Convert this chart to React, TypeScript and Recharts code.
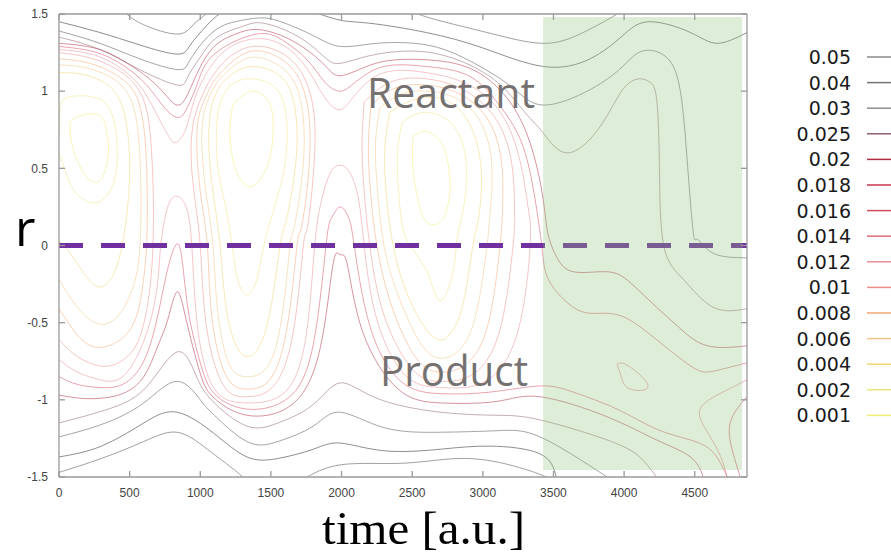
import React from 'react';
import { LineChart, Line, XAxis, YAxis, ReferenceLine, ReferenceArea, Legend } from 'recharts';

const W = 891;
const H = 554;

// axis ticks
const TIME_TICKS = [0, 500, 1000, 1500, 2000, 2500, 3000, 3500, 4000, 4500];
const R_TICKS = [-1.5, -1, -0.5, 0, 0.5, 1, 1.5];

// contour levels (legend order) and their colours
const LEVELS = ['0.05', '0.04', '0.03', '0.025', '0.02', '0.018', '0.016', '0.014', '0.012', '0.01', '0.008', '0.006', '0.004', '0.002', '0.001'];
const LEVEL_COLORS = ['#8a8a8a', '#727272', '#8e8e8e', '#8c5d6a', '#ad2a40', '#c7374d', '#d44a5e', '#df6b79', '#e78d95', '#ee8e8a', '#f3a676', '#f2c486', '#f1d36f', '#efe47f', '#f1ee72'];

// ---- contour traces, [time, r] ----
// lobe around t ~ 300
const lobe1_001 = [[78, 0.8], [150, 0.84], [290, 0.84], [340, 0.72], [350, 0.6], [320, 0.47], [270, 0.41], [200, 0.44], [140, 0.53], [90, 0.66], [78, 0.8]];
const lobe1_002 = [[0, 0.7], [10, 0.9], [60, 0.96], [170, 0.97], [320, 0.93], [395, 0.78], [412, 0.59], [388, 0.41], [300, 0.29], [190, 0.29], [90, 0.38], [30, 0.52], [0, 0.6]];
const lobe1_004 = [[0, 1.12], [160, 1.11], [330, 1.05], [440, 0.92], [490, 0.7], [500, 0.45], [478, 0.18], [446, 0], [395, -0.17], [290, -0.27], [175, -0.18], [80, -0.05], [0, 0.03]];
const lobe1_006 = [[0, 1.17], [200, 1.15], [400, 1.07], [520, 0.92], [568, 0.65], [580, 0.3], [573, 0], [540, -0.22], [440, -0.43], [290, -0.51], [130, -0.4], [0, -0.22]];
const lobe1_008 = [[0, 1.21], [220, 1.18], [430, 1.09], [560, 0.94], [612, 0.65], [625, 0.3], [620, 0], [590, -0.28], [500, -0.55], [290, -0.66], [130, -0.58], [0, -0.41]];
const lobe1_010 = [[0, 1.25], [240, 1.21], [460, 1.11], [600, 0.94], [652, 0.65], [668, 0.3], [665, 0], [640, -0.3], [560, -0.62], [420, -0.76], [290, -0.78], [130, -0.72], [0, -0.61]];

// lobe around t ~ 1350
const lobe2_001 = [[1270, 0.95], [1374, 1.0], [1470, 0.95], [1515, 0.82], [1500, 0.6], [1440, 0.45], [1352, 0.38], [1270, 0.45], [1225, 0.58], [1211, 0.75], [1230, 0.9], [1270, 0.95]];
const lobe2_002 = [[1200, 1.03], [1280, 1.07], [1370, 1.08], [1490, 1.05], [1580, 0.95], [1615, 0.75], [1595, 0.5], [1525, 0.25], [1450, 0], [1400, -0.22], [1330, -0.32], [1265, -0.22], [1225, 0], [1180, 0.25], [1125, 0.5], [1115, 0.75], [1140, 0.92], [1200, 1.03]];
const lobe2_004 = [[1150, 1.05], [1240, 1.12], [1370, 1.16], [1530, 1.12], [1640, 1.0], [1685, 0.75], [1665, 0.45], [1605, 0.15], [1565, 0], [1500, -0.4], [1420, -0.65], [1330, -0.72], [1240, -0.62], [1175, -0.35], [1140, 0], [1090, 0.35], [1060, 0.65], [1080, 0.9], [1150, 1.05]];
const lobe2_006 = [[1120, 1.06], [1220, 1.15], [1370, 1.22], [1550, 1.17], [1680, 1.03], [1735, 0.75], [1715, 0.4], [1660, 0.1], [1635, 0], [1580, -0.45], [1480, -0.78], [1330, -0.85], [1200, -0.76], [1120, -0.4], [1090, 0], [1040, 0.35], [1010, 0.7], [1045, 0.92], [1120, 1.06]];
const lobe2_008 = [[1090, 1.06], [1200, 1.17], [1370, 1.26], [1570, 1.21], [1710, 1.06], [1775, 0.78], [1760, 0.4], [1712, 0.1], [1685, 0], [1620, -0.5], [1500, -0.86], [1330, -0.93], [1180, -0.84], [1080, -0.45], [1050, 0], [1000, 0.35], [975, 0.7], [1010, 0.9], [1090, 1.06]];
const lobe2_010 = [[1060, 1.06], [1180, 1.2], [1370, 1.29], [1590, 1.24], [1740, 1.08], [1810, 0.8], [1795, 0.4], [1755, 0.1], [1730, 0], [1660, -0.55], [1520, -0.91], [1330, -0.98], [1160, -0.9], [1040, -0.5], [1000, 0], [955, 0.35], [935, 0.65], [975, 0.88], [1060, 1.06]];

// lobe around t ~ 2700
const lobe3_001 = [[2506, 0.71], [2580, 0.74], [2648, 0.72], [2730, 0.62], [2768, 0.4], [2750, 0.25], [2697, 0.15], [2605, 0.15], [2545, 0.28], [2505, 0.5], [2506, 0.71]];
const lobe3_002 = [[2430, 0.8], [2560, 0.86], [2700, 0.84], [2820, 0.74], [2880, 0.55], [2870, 0.28], [2818, 0.04], [2790, -0.17], [2697, -0.36], [2605, -0.17], [2470, 0.02], [2415, 0.23], [2395, 0.56], [2430, 0.8]];
const lobe3_004 = [[2340, 0.86], [2470, 0.93], [2640, 0.96], [2800, 0.91], [2930, 0.74], [2990, 0.46], [2970, 0.18], [2930, 0], [2860, -0.38], [2770, -0.57], [2690, -0.61], [2580, -0.52], [2450, -0.28], [2365, 0], [2320, 0.3], [2305, 0.6], [2340, 0.86]];
const lobe3_006 = [[2270, 0.89], [2420, 0.98], [2620, 1.0], [2820, 0.95], [2990, 0.79], [3065, 0.5], [3050, 0.2], [3030, 0], [2950, -0.45], [2830, -0.68], [2690, -0.73], [2550, -0.62], [2400, -0.32], [2300, 0], [2255, 0.35], [2240, 0.65], [2270, 0.89]];
const lobe3_008 = [[2210, 0.91], [2380, 1.02], [2600, 1.04], [2840, 0.98], [3040, 0.81], [3135, 0.52], [3138, 0.2], [3122, 0], [3040, -0.5], [2880, -0.77], [2690, -0.82], [2520, -0.72], [2350, -0.38], [2250, 0], [2205, 0.35], [2190, 0.65], [2210, 0.91]];
const lobe3_010 = [[2160, 0.93], [2350, 1.06], [2600, 1.08], [2860, 1.01], [3085, 0.83], [3205, 0.53], [3225, 0.2], [3214, 0], [3120, -0.55], [2920, -0.84], [2690, -0.88], [2500, -0.8], [2300, -0.45], [2200, 0], [2160, 0.35], [2145, 0.65], [2160, 0.93]];

// outer contours wrapping several lobes
const env1 = [[0, 1.27], [250, 1.235], [450, 1.14], [600, 1.0], [720, 0.8], [790, 0.69], [835, 0.67], [900, 0.76], [960, 0.95], [1060, 1.14], [1200, 1.28], [1400, 1.34], [1600, 1.29], [1760, 1.14], [1880, 0.96], [1990, 0.88], [2100, 0.98], [2300, 1.12], [2600, 1.12], [2880, 1.05], [3120, 0.87], [3260, 0.56], [3320, 0.25], [3335, 0], [3250, -0.55], [3020, -0.88], [2700, -0.92], [2450, -0.84], [2250, -0.48], [2160, 0], [2120, 0.3], [2060, 0.47], [1990, 0.52], [1920, 0.47], [1860, 0.3], [1810, 0], [1750, -0.58], [1600, -0.95], [1330, -1.02], [1100, -0.93], [980, -0.52], [940, 0], [900, 0.25], [835, 0.32], [770, 0.25], [720, 0], [690, -0.3], [600, -0.62], [450, -0.85], [290, -0.87], [130, -0.82], [0, -0.74]];
const env2Top = [[0, 1.29], [250, 1.255], [450, 1.17], [620, 1.04], [740, 0.9], [835, 0.83], [900, 0.88], [980, 1.05], [1100, 1.24], [1400, 1.37], [1600, 1.32], [1760, 1.2], [1880, 1.06], [1990, 1.0], [2100, 1.06], [2300, 1.16], [2600, 1.16], [2900, 1.1], [3100, 0.93], [3250, 0.72], [3340, 0.45], [3400, 0.12], [3427, -0.08], [3476, -0.24], [3640, -0.4], [3800, -0.44], [3990, -0.46], [4230, -0.61], [4470, -0.78], [4590, -0.82], [4700, -0.8], [4870, -0.76]];
const env2Bottom = [[0, -0.85], [130, -0.9], [290, -0.92], [450, -0.9], [600, -0.75], [700, -0.45], [770, -0.15], [835, 0.01], [875, -0.12], [920, -0.45], [1000, -0.76], [1100, -0.96], [1330, -1.06], [1620, -0.99], [1800, -0.64], [1890, 0], [1930, 0.18], [1990, 0.25], [2050, 0.18], [2090, 0], [2200, -0.52], [2420, -0.88], [2700, -0.96], [3050, -0.95], [3405, -0.91], [3640, -0.95], [3950, -1.06], [4230, -1.19], [4470, -1.26], [4630, -1.34], [4730, -1.5]];
const env3Top = [[0, 1.31], [250, 1.28], [450, 1.2], [640, 1.08], [760, 0.97], [835, 0.91], [900, 0.96], [980, 1.12], [1100, 1.29], [1250, 1.37], [1400, 1.4], [1600, 1.35], [1780, 1.25], [1900, 1.15], [1990, 1.1], [2150, 1.15], [2350, 1.2], [2650, 1.2], [2950, 1.13], [3200, 0.92], [3350, 0.62], [3427, 0.3], [3460, 0.08], [3520, -0.07], [3640, -0.17], [3880, -0.17], [4043, -0.24], [4230, -0.4], [4400, -0.54], [4590, -0.65], [4870, -0.65]];
const env3Bottom = [[0, -0.97], [150, -0.99], [290, -0.99], [450, -0.96], [600, -0.85], [700, -0.65], [770, -0.48], [835, -0.3], [900, -0.48], [1000, -0.83], [1100, -0.99], [1330, -1.1], [1650, -1.03], [1850, -0.66], [1940, -0.12], [1990, -0.06], [2040, -0.12], [2150, -0.56], [2400, -0.93], [2700, -1.02], [3100, -1.01], [3405, -0.98], [3880, -1.11], [4230, -1.26], [4470, -1.37], [4560, -1.5]];
const env4Top = [[0, 1.35], [290, 1.27], [570, 1.14], [835, 1.04], [910, 1.09], [1000, 1.22], [1120, 1.35], [1300, 1.42], [1450, 1.44], [1700, 1.35], [1880, 1.22], [1990, 1.18], [2200, 1.23], [2500, 1.26], [2800, 1.21], [3100, 1.06], [3300, 0.86], [3427, 0.73], [3600, 0.6], [3830, 0.77], [3990, 1.01], [4110, 1.08], [4180, 1.06], [4230, 0.95], [4250, 0.51], [4280, 0], [4420, -0.22], [4630, -0.4], [4870, -0.41]];
const env4Bottom = [[0, -1.15], [410, -1.04], [644, -0.89], [835, -0.69], [950, -0.8], [1000, -0.9], [1100, -1.02], [1330, -1.17], [1550, -1.15], [1800, -1.03], [1990, -0.89], [2250, -0.99], [2700, -1.08], [3100, -1.1], [3405, -1.13], [3880, -1.26], [4110, -1.37], [4230, -1.5]];
const env5Top = [[0, 1.39], [290, 1.31], [570, 1.21], [835, 1.14], [920, 1.19], [1020, 1.32], [1150, 1.42], [1300, 1.46], [1450, 1.475], [1600, 1.44], [1800, 1.36], [1990, 1.29], [2250, 1.31], [2600, 1.3], [2900, 1.2], [3200, 1.03], [3427, 0.91], [3760, 1.01], [3990, 1.16], [4130, 1.26], [4300, 1.22], [4400, 0.99], [4450, 0.51], [4490, 0.08], [4520, 0.04], [4630, -0.05], [4870, -0.08]];
const env5Bottom = [[0, -1.24], [300, -1.16], [600, -1.02], [835, -0.88], [1000, -1.0], [1100, -1.1], [1330, -1.27], [1550, -1.27], [1800, -1.17], [1990, -1.08], [2300, -1.18], [2700, -1.21], [3100, -1.2], [3405, -1.24], [3880, -1.5]];
const env6Top = [[0, 1.45], [290, 1.38], [570, 1.3], [835, 1.24], [930, 1.3], [1040, 1.42], [1150, 1.51], [1400, 1.6], [1750, 1.53], [1990, 1.46], [2200, 1.44], [2600, 1.38], [3000, 1.28], [3427, 1.16], [3760, 1.21], [3990, 1.36], [4180, 1.45], [4470, 1.38], [4660, 1.31], [4870, 1.38]];
const env6Bottom = [[0, -1.37], [300, -1.3], [600, -1.15], [835, -1.08], [1100, -1.22], [1330, -1.37], [1550, -1.38], [1800, -1.32], [1990, -1.28], [2300, -1.33], [2700, -1.32], [3050, -1.3], [3405, -1.35], [3520, -1.5]];
const env7TopA = [[420, 1.56], [480, 1.5], [600, 1.43], [835, 1.37], [950, 1.43], [1040, 1.5], [1100, 1.56]];
const env7TopB = [[2400, 1.56], [2605, 1.48], [3030, 1.38], [3427, 1.31], [3710, 1.38], [3950, 1.5], [4000, 1.55]];
const env7BottomA = [[0, -1.47], [300, -1.38], [600, -1.27], [835, -1.21], [1050, -1.32], [1250, -1.46], [1320, -1.52]];
const env7BottomB = [[1720, -1.52], [2000, -1.42], [2450, -1.41], [2900, -1.38], [3300, -1.45], [3500, -1.52]];

// pieces inside the shaded window
const greenLoop = [[3950, -0.77], [4030, -0.78], [4170, -0.91], [4043, -0.93], [3980, -0.85], [3950, -0.77]];
const cornerA = [[4870, -0.87], [4700, -0.95], [4538, -1.06], [4590, -1.21], [4680, -1.36], [4730, -1.5]];
const cornerB = [[4870, -0.98], [4751, -1.15], [4770, -1.34], [4822, -1.5]];

const CONTOURS = [
  { id: 'l1a', level: '0.001', pts: lobe1_001 },
  { id: 'l1b', level: '0.002', pts: lobe1_002 },
  { id: 'l1c', level: '0.004', pts: lobe1_004 },
  { id: 'l1d', level: '0.006', pts: lobe1_006 },
  { id: 'l1e', level: '0.008', pts: lobe1_008 },
  { id: 'l1f', level: '0.01', pts: lobe1_010 },
  { id: 'l2a', level: '0.001', pts: lobe2_001 },
  { id: 'l2b', level: '0.002', pts: lobe2_002 },
  { id: 'l2c', level: '0.004', pts: lobe2_004 },
  { id: 'l2d', level: '0.006', pts: lobe2_006 },
  { id: 'l2e', level: '0.008', pts: lobe2_008 },
  { id: 'l2f', level: '0.01', pts: lobe2_010 },
  { id: 'l3a', level: '0.001', pts: lobe3_001 },
  { id: 'l3b', level: '0.002', pts: lobe3_002 },
  { id: 'l3c', level: '0.004', pts: lobe3_004 },
  { id: 'l3d', level: '0.006', pts: lobe3_006 },
  { id: 'l3e', level: '0.008', pts: lobe3_008 },
  { id: 'l3f', level: '0.01', pts: lobe3_010 },
  { id: 'e1', level: '0.012', pts: env1 },
  { id: 'e2t', level: '0.016', pts: env2Top },
  { id: 'e2b', level: '0.016', pts: env2Bottom },
  { id: 'e3t', level: '0.02', pts: env3Top },
  { id: 'e3b', level: '0.02', pts: env3Bottom },
  { id: 'e4t', level: '0.025', pts: env4Top },
  { id: 'e4b', level: '0.025', pts: env4Bottom },
  { id: 'e5t', level: '0.03', pts: env5Top },
  { id: 'e5b', level: '0.03', pts: env5Bottom },
  { id: 'e6t', level: '0.04', pts: env6Top },
  { id: 'e6b', level: '0.04', pts: env6Bottom },
  { id: 'e7a', level: '0.05', pts: env7TopA },
  { id: 'e7b', level: '0.05', pts: env7TopB },
  { id: 'e7c', level: '0.05', pts: env7BottomA },
  { id: 'e7d', level: '0.05', pts: env7BottomB },
  { id: 'g1', level: '0.014', pts: greenLoop },
  { id: 'g2', level: '0.014', pts: cornerA },
  { id: 'g3', level: '0.018', pts: cornerB },
];

const GRAY_LEVELS = ['0.05', '0.04', '0.03'];
const colorOf = (level: string) => LEVEL_COLORS[LEVELS.indexOf(level)];

const axisStroke = '#9a9a9a';
const tickFont = { fontSize: 12, fill: '#444', fontFamily: 'Liberation Sans, Arial, sans-serif' };

const LevelLegend = () => (
  <svg width={131} height={400}>
    {LEVELS.map((lv, i) => {
      const y = 17 + i * 25.6;
      return (
        <g key={lv}>
          <text x={91} y={y + 7} textAnchor="end" fontFamily="DejaVu Sans" fontSize={19} fill="#1a1a1a">
            {lv}
          </text>
          <line x1={107} x2={131} y1={y} y2={y} stroke={LEVEL_COLORS[i]} strokeWidth={1.5} />
        </g>
      );
    })}
  </svg>
);

export default function App() {
  return (
    <div style={{ position: 'absolute', left: 0, top: 0, width: W, height: H, background: '#fff' }}>
      <LineChart width={W} height={H} margin={{ top: 4, right: 134, bottom: 47, left: 0 }}>
        <XAxis
          xAxisId={0}
          dataKey="t"
          type="number"
          domain={[0, 4870]}
          allowDataOverflow
          ticks={TIME_TICKS}
          height={30}
          stroke={axisStroke}
          strokeWidth={1.3}
          tickSize={-6}
          tickMargin={17}
          tick={tickFont}
        />
        <XAxis
          xAxisId="top"
          orientation="top"
          dataKey="t"
          type="number"
          domain={[0, 4870]}
          allowDataOverflow
          ticks={TIME_TICKS}
          height={10}
          stroke={axisStroke}
          strokeWidth={1.3}
          tickSize={-6}
          tickFormatter={() => ''}
        />
        <YAxis
          yAxisId={0}
          dataKey="r"
          type="number"
          domain={[-1.5, 1.5]}
          allowDataOverflow
          ticks={R_TICKS}
          width={59}
          stroke={axisStroke}
          strokeWidth={1.3}
          tickSize={-6}
          tickMargin={17}
          tick={tickFont}
        />
        <YAxis
          yAxisId="right"
          orientation="right"
          type="number"
          domain={[-1.5, 1.5]}
          allowDataOverflow
          ticks={R_TICKS}
          width={10}
          stroke={axisStroke}
          strokeWidth={1.3}
          tickSize={-6}
          tickFormatter={() => ''}
        />
        {CONTOURS.map((c) => (
          <Line
            key={c.id}
            data={c.pts.map(([t, r]) => ({ t, r }))}
            dataKey="r"
            type="natural"
            stroke={colorOf(c.level)}
            strokeOpacity={GRAY_LEVELS.includes(c.level) ? 0.8 : 0.5}
            strokeWidth={1}
            dot={false}
            activeDot={false}
            isAnimationActive={false}
          />
        ))}
        <ReferenceLine y={0} stroke="#7030a0" strokeWidth={5} strokeDasharray="24 18" zIndex={420} />
        <ReferenceArea x1={3427} x2={4836} y1={-1.455} y2={1.48} fill="#8fc27a" fillOpacity={0.3} stroke="none" zIndex={450} />
        <Legend
          layout="horizontal"
          verticalAlign="middle"
          align="center"
          wrapperStyle={{ left: 760, top: 40, width: 131, height: 400 }}
          content={() => <LevelLegend />}
        />
      </LineChart>
      <svg width={W} height={H} style={{ position: 'absolute', left: 0, top: 0, pointerEvents: 'none' }}>
        <text x={367} y={108} fontFamily="Open Sans" fontSize={42} fill="#767171" textLength={168} lengthAdjust="spacingAndGlyphs">
          Reactant
        </text>
        <text x={380} y={386} fontFamily="Open Sans" fontSize={42} fill="#767171" textLength={148} lengthAdjust="spacingAndGlyphs">
          Product
        </text>
        <text x={15} y={246} fontFamily="Open Sans" fontSize={50} fill="#000">
          r
        </text>
        <text x={322} y={544} fontFamily="Liberation Serif" fontSize={47} fill="#000" textLength={203} lengthAdjust="spacingAndGlyphs">
          time [a.u.]
        </text>
      </svg>
    </div>
  );
}
